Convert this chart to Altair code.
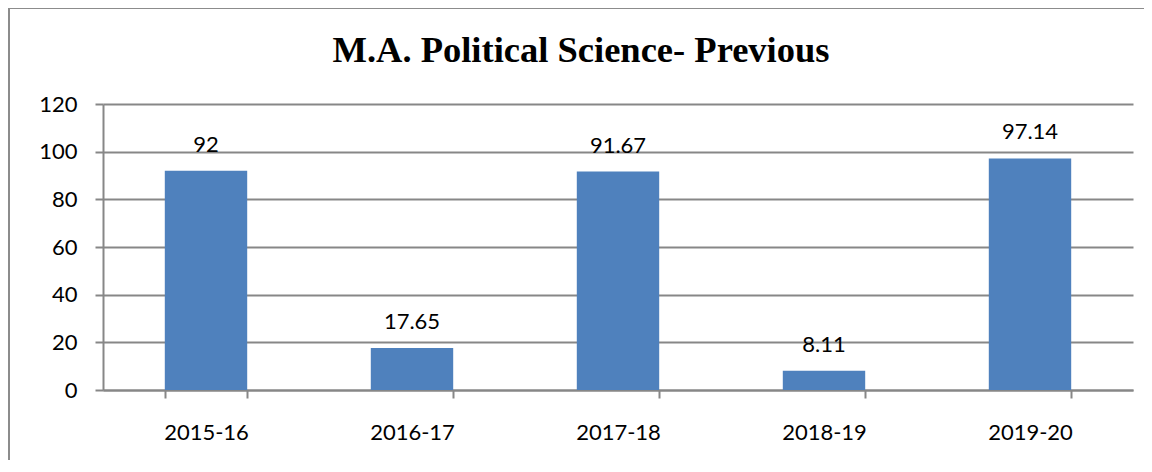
import altair as alt
import pandas as pd

years = ["2015-16", "2016-17", "2017-18", "2018-19", "2019-20"]
values = [92, 17.65, 91.67, 8.11, 97.14]
labels = ["92", "17.65", "91.67", "8.11", "97.14"]
title_text = "M.A. Political Science- Previous"

df = pd.DataFrame({"year": years, "value": values, "label": labels})

FONT = "Lato"
GRID = "#878787"

x_enc = alt.X("year:N", sort=years, title=None,
              scale=alt.Scale(paddingInner=0.6, paddingOuter=0.3),
              axis=alt.Axis(labelAngle=0, tickBand="extent", tickSize=8, tickColor=GRID,
                            tickWidth=2, domainColor=GRID, domainWidth=2, labelPadding=24,
                            labelFont=FONT, labelFontSize=22, labelColor="#000000", grid=False))
y_enc = alt.Y("value:Q", title=None,
              scale=alt.Scale(domain=[0, 120], nice=False),
              axis=alt.Axis(values=[0, 20, 40, 60, 80, 100, 120], tickSize=8, tickColor=GRID,
                            tickWidth=2, domainColor=GRID, domainWidth=2, gridColor=GRID,
                            gridWidth=2, labelPadding=18, labelFont=FONT, labelFontSize=22,
                            labelColor="#000000"))

bars = alt.Chart(df).mark_bar(color="#4F81BD").encode(x=x_enc, y=y_enc)
text = alt.Chart(df).mark_text(font=FONT, fontSize=22, color="#000000", baseline="alphabetic",
                               dy=-19).encode(
    x=alt.X("year:N", sort=years), y="value:Q", text="label:N")

one = alt.Data(values=[{"k": 1}])
left_border = alt.Chart(one).mark_rule(color="#8c8c8c", strokeWidth=2).encode(
    x=alt.value(-94), y=alt.value(-96), y2=alt.value(420))
top_border = alt.Chart(one).mark_rule(color="#8c8c8c", strokeWidth=2).encode(
    x=alt.value(-94), x2=alt.value(1100), y=alt.value(-96))
title = alt.Chart(one).mark_text(font="Liberation Serif", fontSize=36.5, fontWeight="bold",
                                 color="#000000", align="center", baseline="alphabetic").encode(
    x=alt.value(478), y=alt.value(-42), text=alt.value(title_text))

chart = alt.layer(left_border, top_border, title, bars, text).properties(
    width=1030, height=286,
    autosize=alt.AutoSizeParams(type="none"),
    padding={"left": 95, "top": 96, "right": 11, "bottom": 70},
).configure_view(stroke=None)

chart.save("out.html", embed_options={"renderer": "svg", "actions": False})
